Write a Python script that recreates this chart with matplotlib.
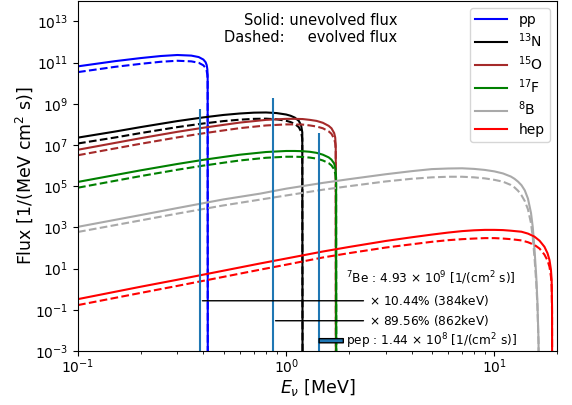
import matplotlib
matplotlib.use("Agg")
import matplotlib.pyplot as plt
from matplotlib.ticker import NullLocator

# energies [MeV] and fluxes [1/(MeV cm^2 s)]
pp_E = [0.1, 0.15, 0.2, 0.25, 0.3, 0.35, 0.38, 0.40, 0.41, 0.415, 0.418, 0.4195, 0.4202]
pp_solid = [6.6e10, 1.17e11, 1.66e11, 2.09e11, 2.34e11, 2.19e11, 1.86e11, 1.41e11,
            1.05e11, 7.6e10, 4.8e10, 2.5e10, 1e-6]
pp_dashed = [3.47e10, 6.2e10, 8.7e10, 1.10e11, 1.23e11, 1.15e11, 9.8e10, 7.4e10,
             5.5e10, 4.0e10, 2.5e10, 1.32e10, 1e-6]

N13_E = [0.1, 0.15, 0.2, 0.3, 0.4, 0.5, 0.6, 0.7, 0.8, 0.9, 1.0, 1.05, 1.1, 1.15,
         1.18, 1.195, 1.199]
N13_solid = [2.29e7, 4.47e7, 7.41e7, 1.45e8, 2.19e8, 2.88e8, 3.39e8, 3.72e8, 3.80e8,
             3.55e8, 3.02e8, 2.63e8, 2.14e8, 1.48e8, 8.9e7, 4.1e7, 1e-6]
N13_dashed = [1.19e7, 2.3e7, 3.8e7, 7.4e7, 1.11e8, 1.45e8, 1.70e8, 1.86e8, 1.90e8,
              1.77e8, 1.50e8, 1.30e8, 1.06e8, 7.3e7, 4.4e7, 2.0e7, 1e-6]

O15_E = [0.1, 0.2, 0.3, 0.4, 0.5, 0.6, 0.8, 1.0, 1.1, 1.2, 1.3, 1.4, 1.5, 1.6, 1.65,
         1.7, 1.72, 1.73, 1.733]
O15_solid = [5.9e6, 2.14e7, 4.37e7, 6.9e7, 9.5e7, 1.23e8, 1.66e8, 1.86e8, 1.86e8,
             1.82e8, 1.66e8, 1.48e8, 1.20e8, 8.5e7, 6.5e7, 3.8e7, 2.3e7, 9.1e6, 1e-6]
O15_dashed = [3.2e6, 1.15e7, 2.34e7, 3.7e7, 5.1e7, 6.6e7, 8.9e7, 1.0e8, 1.0e8, 9.8e7,
              8.9e7, 7.9e7, 6.5e7, 4.6e7, 3.5e7, 2.0e7, 1.23e7, 4.9e6, 1e-6]

F17_E = [0.1, 0.2, 0.3, 0.4, 0.5, 0.6, 0.8, 1.0, 1.1, 1.2, 1.3, 1.4, 1.5, 1.6, 1.65,
         1.7, 1.725, 1.737, 1.741]
F17_solid = [1.62e5, 5.9e5, 1.20e6, 1.91e6, 2.63e6, 3.39e6, 4.57e6, 5.13e6, 5.13e6,
             5.01e6, 4.68e6, 4.17e6, 3.39e6, 2.51e6, 1.95e6, 1.26e6, 7.1e5, 2.5e5, 1e-6]
F17_dashed = [8.5e4, 3.1e5, 6.3e5, 1.0e6, 1.38e6, 1.78e6, 2.4e6, 2.7e6, 2.7e6, 2.63e6,
              2.45e6, 2.19e6, 1.78e6, 1.32e6, 1.02e6, 6.6e5, 3.7e5, 1.3e5, 1e-6]

B8_E = [0.1, 0.2, 0.3, 0.5, 0.75, 1.0, 1.5, 2.0, 3.0, 4.0, 5.0, 6.0, 7.0, 8.0, 9.0,
        10.0, 11.0, 12.0, 12.5, 13.0, 13.5, 14.0, 14.5, 15.0, 15.3, 15.6, 15.9, 16.1,
        16.3, 16.4]
B8_solid = [1.07e3, 3.98e3, 8.7e3, 2.29e4, 4.37e4, 7.6e4, 1.45e5, 2.19e5, 3.8e5, 5.37e5,
            6.76e5, 7.24e5, 7.41e5, 6.92e5, 6.17e5, 5.25e5, 4.17e5, 2.95e5, 2.29e5,
            1.66e5, 1.12e5, 6.3e4, 2.51e4, 5.0e3, 1.0e3, 79.4, 3.98, 0.251, 3.16e-3, 1e-6]
B8_dashed = [603, 2.19e3, 4.68e3, 1.17e4, 2.24e4, 3.55e4, 6.76e4, 1.0e5, 1.70e5, 2.29e5,
             2.69e5, 2.88e5, 2.88e5, 2.69e5, 2.40e5, 2.04e5, 1.66e5, 1.15e5, 8.7e4,
             6.0e4, 3.63e4, 1.91e4, 7.6e3, 1.58e3, 316, 31.6, 2.0, 0.158, 2.5e-3, 1e-6]

hep_E = [0.1, 0.2, 0.3, 0.5, 0.75, 1.0, 1.5, 2.0, 3.0, 4.0, 5.0, 6.0, 7.0, 8.0, 9.0,
         10.0, 11.0, 12.0, 13.5, 14.5, 15.6, 16.5, 17.4, 18.0, 18.4, 18.7, 18.85,
         18.93, 18.96]
hep_solid = [0.331, 1.32, 2.88, 7.94, 17.8, 30.9, 67.6, 112, 219, 331, 447, 562, 661,
             724, 759, 759, 741, 692, 617, 501, 355, 224, 115, 56.2, 26.3, 8.9, 2.8,
             0.158, 1e-6]
hep_dashed = [0.17, 0.661, 1.45, 3.98, 8.9, 15.5, 34.7, 56.2, 105, 151, 200, 240, 269,
              288, 302, 302, 288, 269, 234, 191, 141, 93.3, 47.9, 25.1, 12.3, 4.17,
              1.32, 0.079, 1e-6]

# line sources: 7Be (384 keV, 862 keV) and pep, heights as drawn
line_E = [0.384, 0.862, 1.44]
line_top = [5.6e8, 1.9e9, 3.8e7]

sources = [
    ("pp", "blue", pp_E, pp_solid, pp_dashed),
    ("$^{13}$N", "black", N13_E, N13_solid, N13_dashed),
    ("$^{15}$O", "brown", O15_E, O15_solid, O15_dashed),
    ("$^{17}$F", "green", F17_E, F17_solid, F17_dashed),
    ("$^{8}$B", "darkgray", B8_E, B8_solid, B8_dashed),
    ("hep", "red", hep_E, hep_solid, hep_dashed),
]

fig = plt.figure(figsize=(5.72, 4.05), dpi=100)
ax = fig.add_axes([0.1364, 0.1333, 0.8374, 0.8647])

for name, col, E, solid, dashed in sources:
    ax.plot(E, solid, color=col, lw=1.5, label=name)
    ax.plot(E, dashed, color=col, lw=1.5, ls="--")

ax.vlines(line_E, 1e-6, line_top, color="C0", lw=1.5)

ax.set_xscale("log")
ax.set_yscale("log")
ax.set_xlim(0.1, 20)
ax.set_ylim(1e-3, 1e14)
ax.set_yticks([10.0**k for k in range(-3, 14, 2)])
ax.yaxis.set_minor_locator(NullLocator())
ax.tick_params(axis="x", which="major", pad=1)

fs = 8.75
ax.annotate(r"$^7$Be : 4.93 $\times$ 10$^9$ [1/(cm$^2$ s)]", xy=(1.94, 3.5),
            va="center", fontsize=fs)
ax.annotate(r"$\times$ 10.44% (384keV)", xy=(0.384, 0.275), xytext=(2.5, 0.275),
            va="center", fontsize=fs, arrowprops=dict(arrowstyle="-", color="k"))
ax.annotate(r"$\times$ 89.56% (862keV)", xy=(0.862, 0.0295), xytext=(2.5, 0.0295),
            va="center", fontsize=fs, arrowprops=dict(arrowstyle="-", color="k"))
ax.annotate(r"pep : 1.44 $\times$ 10$^8$ [1/(cm$^2$ s)]", xy=(1.44, 3.16e-3),
            xytext=(1.94, 3.16e-3), va="center", fontsize=fs,
            arrowprops=dict(facecolor="C0", edgecolor="k", width=3, headwidth=3,
                            headlength=0.01, shrink=0.0))

ax.text(0.666, 0.966, "Solid: unevolved flux\nDashed:     evolved flux",
        transform=ax.transAxes, ha="right", va="top", fontsize=10.5)

ax.legend(loc="upper right", fontsize=10, labelspacing=0.3, handlelength=2.3)
ax.set_xlabel(r"$E_\nu$ [MeV]", fontsize=12.5, labelpad=1)
ax.set_ylabel("Flux [1/(MeV cm$^2$ s)]", fontsize=12.5, labelpad=0)

fig.savefig("out.png", dpi=100)
